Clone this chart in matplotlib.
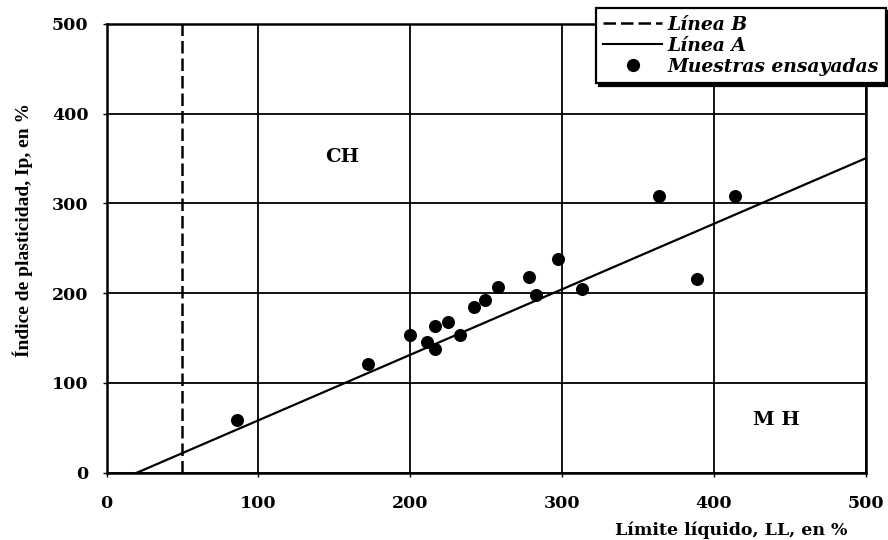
import numpy as np
import matplotlib
matplotlib.use("Agg")
import matplotlib.pyplot as plt
from matplotlib.lines import Line2D

# Tested samples: liquid limit LL (%) and plasticity index Ip (%)
ll_samples = [86, 172, 200, 211, 216, 216, 225, 233, 242, 249, 258, 278, 283, 297, 313, 364, 389, 414]
ip_samples = [59, 121, 153, 146, 163, 138, 168, 153, 185, 192, 207, 218, 198, 238, 205, 308, 216, 308]

# Casagrande reference lines
line_a_ll = [20, 500]
line_a_ip = [0.73 * (v - 20) for v in line_a_ll]
line_b_ll = 50

x_ticks = [0, 100, 200, 300, 400, 500]
y_ticks = [0, 100, 200, 300, 400, 500]

wide_serif = ["DejaVu Serif"]
narrow_serif = ["Liberation Serif", "DejaVu Serif"]
plt.rcParams["font.family"] = wide_serif

fig = plt.figure(figsize=(8.88, 5.40), dpi=100)
ax = fig.add_axes([0.120, 0.1246, 0.855, 0.831])

ax.set_xlim(0, 500)
ax.set_ylim(0, 500)
ax.set_xticks(x_ticks)
ax.set_yticks(y_ticks)
ax.grid(True, color="black", linewidth=1.3)
ax.set_axisbelow(True)
for s in ax.spines.values():
    s.set_linewidth(1.8)

ax.tick_params(axis="both", length=3, width=1, direction="out", labelsize=12.5)
ax.tick_params(axis="x", pad=13)
ax.tick_params(axis="y", pad=10)
for lbl in ax.get_xticklabels() + ax.get_yticklabels():
    lbl.set_fontweight("bold")

dash = (0, (5, 2))

# Line B (vertical, dashed) and Line A
ax.plot([line_b_ll, line_b_ll], [0, 500], color="black", lw=1.8,
        linestyle=dash, zorder=3)
ax.plot(line_a_ll, line_a_ip, color="black", lw=1.6, zorder=3)

ax.scatter(ll_samples, ip_samples, s=70, color="black", zorder=4)

ax.text(155, 352, "CH", fontsize=14, fontweight="bold", ha="center", va="center")
ax.text(441, 59, "M H", fontsize=14, fontweight="bold", ha="center", va="center")

ax.set_ylabel("Índice de plasticidad, Ip, en %", fontsize=14, fontweight="bold",
              family=narrow_serif)
ax.yaxis.set_label_coords(-0.097, 0.541)
fig.text(0.954, 1 - 530 / 540, "Límite líquido, LL, en %", fontsize=12.5,
         fontweight="bold", ha="right", va="center")

handles = [
    Line2D([0], [0], color="black", lw=1.8, linestyle=dash),
    Line2D([0], [0], color="black", lw=1.5),
    Line2D([0], [0], color="black", lw=0, marker="o", markersize=8.5),
]
leg = fig.legend(handles, ["Línea B", "Línea A", "Muestras ensayadas"],
                 loc="upper right", bbox_to_anchor=(0.9977, 0.985),
                 prop={"family": wide_serif, "weight": "bold", "style": "italic", "size": 13.5},
                 frameon=True, fancybox=False,
                 shadow={"color": "black", "alpha": 1.0},
                 handlelength=3.1, handletextpad=0.3, labelspacing=0.17,
                 borderpad=0.4, borderaxespad=0)
leg.get_frame().set_edgecolor("black")
leg.get_frame().set_linewidth(1.6)
leg.get_frame().set_facecolor("white")
leg.get_frame().set_alpha(1.0)
leg.set_zorder(10)

fig.savefig("out.png", dpi=100, facecolor="white")
